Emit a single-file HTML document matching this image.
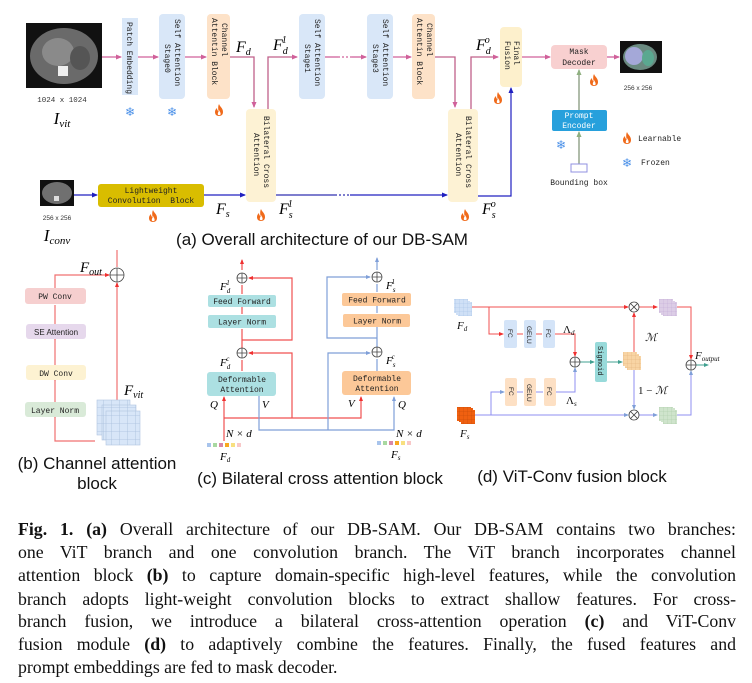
<!DOCTYPE html>
<html><head><meta charset="utf-8"><style>
html,body{margin:0;padding:0;background:#fff;width:752px;height:683px;overflow:hidden}
svg{position:absolute;left:0;top:0}
.m{font-family:"Liberation Mono",monospace}
.s{font-family:"Liberation Sans",sans-serif}
.r{font-family:"Liberation Serif",serif;font-style:italic}
.cap{position:absolute;left:18px;width:718px;font-family:"Liberation Serif",serif;font-size:17.8px;line-height:23px;color:#111;text-align:justify;text-align-last:justify;white-space:nowrap}
.cap.l{text-align-last:left}
</style></head><body>
<svg width="752" height="683" viewBox="0 0 752 683" xmlns="http://www.w3.org/2000/svg">
<defs>
<marker id="ap" markerWidth="6" markerHeight="6" refX="5" refY="3" orient="auto" markerUnits="userSpaceOnUse"><path d="M0,0.5 L6,3 L0,5.5z" fill="#d0609a"/></marker>
<marker id="ab" markerWidth="6" markerHeight="6" refX="5" refY="3" orient="auto" markerUnits="userSpaceOnUse"><path d="M0,0.5 L6,3 L0,5.5z" fill="#2020c0"/></marker>
<marker id="ar" markerWidth="5" markerHeight="5" refX="4" refY="2.5" orient="auto" markerUnits="userSpaceOnUse"><path d="M0,0.5 L5,2.5 L0,4.5z" fill="#f03030"/></marker>
<marker id="al" markerWidth="5" markerHeight="5" refX="4" refY="2.5" orient="auto" markerUnits="userSpaceOnUse"><path d="M0,0.5 L5,2.5 L0,4.5z" fill="#7f9fd8"/></marker>
<marker id="ag" markerWidth="6" markerHeight="6" refX="5" refY="3" orient="auto" markerUnits="userSpaceOnUse"><path d="M0,0.5 L6,3 L0,5.5z" fill="#8fb080"/></marker>
<marker id="at" markerWidth="5" markerHeight="5" refX="4" refY="2.5" orient="auto" markerUnits="userSpaceOnUse"><path d="M0,0.5 L5,2.5 L0,4.5z" fill="#40a090"/></marker>
<symbol id="fl" viewBox="0 0 10 12"><path d="M5,0 C6,3 9,4 9,8 C9,11 7,12 5,12 C3,12 1,11 1,8 C1,6 2,5 3,4 C3,6 4,7 4.5,7 C4,4 4,2 5,0z" fill="#f06a1a"/><path d="M5,6 C6,8 7,9 6.5,10.5 C6,11.5 4,11.5 3.8,10.3 C3.6,9 4.5,8 5,6z" fill="#fff"/></symbol>
<pattern id="gb" width="8" height="8" patternUnits="userSpaceOnUse"><rect width="8" height="8" fill="#d8e6f8"/><path d="M8,0V8M0,8H8" stroke="#a8bedc" stroke-width="0.8"/></pattern>
<pattern id="gp" width="4" height="4" patternUnits="userSpaceOnUse"><rect width="4" height="4" fill="#dccde6"/><path d="M4,0V4M0,4H4" stroke="#c0a8d4" stroke-width="0.5"/></pattern>
<pattern id="gg" width="4" height="4" patternUnits="userSpaceOnUse"><rect width="4" height="4" fill="#cfe4cc"/><path d="M4,0V4M0,4H4" stroke="#a8c8a4" stroke-width="0.5"/></pattern>
<pattern id="go" width="4" height="4" patternUnits="userSpaceOnUse"><rect width="4" height="4" fill="#f8d4a4"/><path d="M4,0V4M0,4H4" stroke="#e0b078" stroke-width="0.5"/></pattern>
<pattern id="gr" width="4" height="4" patternUnits="userSpaceOnUse"><rect width="4" height="4" fill="#f06010"/><path d="M4,0V4M0,4H4" stroke="#c04808" stroke-width="0.5"/></pattern>
<pattern id="gl" width="4" height="4" patternUnits="userSpaceOnUse"><rect width="4" height="4" fill="#cfe0f6"/><path d="M4,0V4M0,4H4" stroke="#a4c0e4" stroke-width="0.5"/></pattern>
</defs>

<!-- ===== (a) ===== -->
<rect x="26" y="23" width="76" height="65" fill="#111"/>
<ellipse cx="64" cy="56" rx="34" ry="28" fill="#6a6a6a"/>
<ellipse cx="58" cy="52" rx="16" ry="14" fill="#8a8a8a"/>
<ellipse cx="80" cy="58" rx="10" ry="12" fill="#555"/>
<rect x="58" y="66" width="10" height="10" fill="#eee"/>
<text x="62" y="102" class="m" font-size="7.5" text-anchor="middle" fill="#333">1024 x 1024</text>
<text x="62" y="124" class="r" font-size="17" text-anchor="middle">I<tspan font-size="11" dy="3">vit</tspan></text>

<path d="M102,57H121" stroke="#d0609a" stroke-width="1.3" fill="none" marker-end="url(#ap)"/>
<rect x="122" y="18" width="16" height="77" fill="#d9e7f8"/>
<text transform="translate(127,22) rotate(90)" class="m" font-size="8" fill="#222">Patch Embedding</text>
<path d="M138,57H158" stroke="#d0609a" stroke-width="1.3" fill="none" marker-end="url(#ap)"/>
<rect x="159" y="14" width="26" height="85" rx="4" fill="#d9e7f8"/>
<text transform="translate(175,19) rotate(90)" class="m" font-size="8" fill="#222">Self Attention</text>
<text transform="translate(165,44) rotate(90)" class="m" font-size="8" fill="#222">Stage0</text>
<path d="M185,57H206" stroke="#d0609a" stroke-width="1.3" fill="none" marker-end="url(#ap)"/>
<rect x="207" y="14" width="23" height="85" rx="4" fill="#fde2c8"/>
<text transform="translate(222,23) rotate(90)" class="m" font-size="8" fill="#222">Channel</text>
<text transform="translate(212,18) rotate(90)" class="m" font-size="8" fill="#222">Attentin Block</text>
<text x="130" y="116" font-size="12" text-anchor="middle" fill="#4a90e8">❄</text>
<text x="172" y="116" font-size="12" text-anchor="middle" fill="#4a90e8">❄</text>
<use href="#fl" x="214" y="104" width="10" height="12"/>

<text x="236" y="52" class="r" font-size="16">F<tspan font-size="10" dy="3">d</tspan></text>
<path d="M230,57H254V107" stroke="#c0608a" stroke-width="1.3" fill="none" marker-end="url(#ap)"/>
<rect x="246" y="109" width="30" height="93" rx="4" fill="#fdf2d4"/>
<text transform="translate(264,116) rotate(90)" class="m" font-size="8" fill="#222">Bilateral Cross</text>
<text transform="translate(254,133) rotate(90)" class="m" font-size="8" fill="#222">Attention</text>
<path d="M268,109V57H297" stroke="#c0608a" stroke-width="1.3" fill="none" marker-end="url(#ap)"/>
<text x="273" y="50" class="r" font-size="16">F<tspan font-size="10" dy="4">d</tspan><tspan font-size="10" dx="-6" dy="-11">1</tspan></text>
<use href="#fl" x="256" y="209" width="10" height="12"/>

<rect x="299" y="14" width="26" height="85" rx="4" fill="#d9e7f8"/>
<text transform="translate(315,19) rotate(90)" class="m" font-size="8" fill="#222">Self Attention</text>
<text transform="translate(305,44) rotate(90)" class="m" font-size="8" fill="#222">Stage1</text>
<path d="M325,57H338" stroke="#d0609a" stroke-width="1.3"/>
<path d="M338,57H352" stroke="#d0609a" stroke-width="1.3" stroke-dasharray="2,2"/>
<path d="M352,57H366" stroke="#d0609a" stroke-width="1.3" fill="none" marker-end="url(#ap)"/>
<rect x="367" y="14" width="26" height="85" rx="4" fill="#d9e7f8"/>
<text transform="translate(383,19) rotate(90)" class="m" font-size="8" fill="#222">Self Attention</text>
<text transform="translate(373,44) rotate(90)" class="m" font-size="8" fill="#222">Stage3</text>
<path d="M393,57H411" stroke="#d0609a" stroke-width="1.3" fill="none" marker-end="url(#ap)"/>
<rect x="412" y="14" width="23" height="85" rx="4" fill="#fde2c8"/>
<text transform="translate(427,23) rotate(90)" class="m" font-size="8" fill="#222">Channel</text>
<text transform="translate(417,18) rotate(90)" class="m" font-size="8" fill="#222">Attentin Block</text>
<path d="M435,57H455V107" stroke="#c0608a" stroke-width="1.3" fill="none" marker-end="url(#ap)"/>
<rect x="448" y="109" width="30" height="93" rx="4" fill="#fdf2d4"/>
<text transform="translate(466,116) rotate(90)" class="m" font-size="8" fill="#222">Bilateral Cross</text>
<text transform="translate(456,133) rotate(90)" class="m" font-size="8" fill="#222">Attention</text>
<path d="M471,109V57H498" stroke="#c0608a" stroke-width="1.3" fill="none" marker-end="url(#ap)"/>
<text x="476" y="50" class="r" font-size="16">F<tspan font-size="10" dy="4">d</tspan><tspan font-size="10" dx="-6" dy="-11">o</tspan></text>
<use href="#fl" x="460" y="209" width="10" height="12"/>

<rect x="500" y="27" width="22" height="60" rx="4" fill="#fdf0cc"/>
<text transform="translate(514,41) rotate(90)" class="m" font-size="8" fill="#222">Final</text>
<text transform="translate(505,41) rotate(90)" class="m" font-size="8" fill="#222">Fusion</text>
<use href="#fl" x="493" y="92" width="10" height="12"/>
<path d="M522,57H550" stroke="#d0609a" stroke-width="1.3" fill="none" marker-end="url(#ap)"/>
<rect x="551" y="45" width="56" height="24" rx="4" fill="#f8d0d0"/>
<text x="579" y="54" class="m" font-size="8" text-anchor="middle" fill="#222">Mask</text>
<text x="579" y="65" class="m" font-size="8" text-anchor="middle" fill="#222">Decoder</text>
<use href="#fl" x="589" y="74" width="10" height="12"/>
<path d="M607,57H619" stroke="#d0609a" stroke-width="1.3" fill="none" marker-end="url(#ap)"/>
<rect x="620" y="41" width="42" height="32" fill="#111"/>
<ellipse cx="640" cy="57" rx="17" ry="13" fill="#6a8a80"/>
<ellipse cx="634" cy="56" rx="9" ry="9" fill="#a4a8d8"/>
<ellipse cx="648" cy="58" rx="6" ry="8" fill="#5aa890"/>
<text x="638" y="90" class="s" font-size="6.5" text-anchor="middle" fill="#333">256 x 256</text>

<path d="M579,164V132" stroke="#7a9070" stroke-width="1.2" fill="none" marker-end="url(#ag)"/>
<path d="M579,110V70" stroke="#7a9070" stroke-width="1.2" fill="none" marker-end="url(#ag)"/>
<rect x="552" y="110" width="55" height="21" rx="2" fill="#27a0dc"/>
<text x="579" y="118" class="m" font-size="8" text-anchor="middle" fill="#fff">Prompt</text>
<text x="579" y="128" class="m" font-size="8" text-anchor="middle" fill="#fff">Encoder</text>
<text x="561" y="149" font-size="12" text-anchor="middle" fill="#4a90e8">❄</text>
<rect x="571" y="164" width="16" height="8" fill="#fff" stroke="#9090e0" stroke-width="1"/>
<text x="579" y="185" class="m" font-size="8" text-anchor="middle" fill="#222">Bounding box</text>
<use href="#fl" x="622" y="132" width="10" height="12"/>
<text x="638" y="141" class="m" font-size="8" fill="#222">Learnable</text>
<text x="627" y="167" font-size="12" text-anchor="middle" fill="#4a90e8">❄</text>
<text x="641" y="165" class="m" font-size="8" fill="#222">Frozen</text>

<rect x="40" y="180" width="34" height="26" fill="#111"/>
<ellipse cx="57" cy="193" rx="15" ry="11" fill="#707070"/>
<rect x="54" y="196" width="5" height="5" fill="#ddd"/>
<text x="57" y="220" class="s" font-size="6.5" text-anchor="middle" fill="#333">256 x 256</text>
<text x="57" y="241" class="r" font-size="17" text-anchor="middle">I<tspan font-size="11" dy="3">conv</tspan></text>
<path d="M74,195H97" stroke="#2020c0" stroke-width="1.2" fill="none" marker-end="url(#ab)"/>
<rect x="98" y="184" width="106" height="23" rx="3" fill="#d9bd00"/>
<text x="151" y="193" class="m" font-size="8" text-anchor="middle" fill="#222">Lightweight</text>
<text x="151" y="203" class="m" font-size="8" text-anchor="middle" fill="#222" xml:space="preserve">Convolution  Block</text>
<use href="#fl" x="148" y="210" width="10" height="12"/>
<path d="M204,195H245" stroke="#2020c0" stroke-width="1.2" fill="none" marker-end="url(#ab)"/>
<text x="216" y="214" class="r" font-size="16">F<tspan font-size="10" dy="3">s</tspan></text>
<path d="M276,195H335" stroke="#3030b0" stroke-width="1.2"/>
<path d="M335,195H350" stroke="#3030b0" stroke-width="1.2" stroke-dasharray="2,2"/>
<path d="M350,195H447" stroke="#2020c0" stroke-width="1.2" fill="none" marker-end="url(#ab)"/>
<text x="279" y="214" class="r" font-size="16">F<tspan font-size="10" dy="4">s</tspan><tspan font-size="10" dx="-5" dy="-11">1</tspan></text>
<path d="M478,196H511V88" stroke="#2020c0" stroke-width="1.2" fill="none" marker-end="url(#ab)"/>
<text x="482" y="214" class="r" font-size="16">F<tspan font-size="10" dy="4">s</tspan><tspan font-size="10" dx="-5" dy="-11">o</tspan></text>
<text x="322" y="245" class="s" font-size="17" text-anchor="middle" fill="#111">(a) Overall architecture of our DB-SAM</text>

<!-- ===== (b) ===== -->
<path d="M95,441H55V305" stroke="#f07070" stroke-width="1.2" fill="none"/>
<path d="M55,402V418M55,365V381M55,324V340" stroke="#f07070" stroke-width="1.2"/>
<path d="M55,288V275H109" stroke="#f07070" stroke-width="1.2" fill="none" marker-end="url(#ar)"/>
<path d="M117,400V283" stroke="#f07070" stroke-width="1.2" fill="none" marker-end="url(#ar)"/>
<path d="M117,267V250" stroke="#f07070" stroke-width="1.2"/>
<circle cx="117" cy="275" r="7" fill="#fff" stroke="#444" stroke-width="0.8"/>
<path d="M110,275H124M117,268V282" stroke="#444" stroke-width="0.8"/>
<rect x="25" y="288" width="61" height="16" rx="3" fill="#f6cfcf"/>
<text x="55" y="299" class="m" font-size="8" text-anchor="middle" fill="#222">PW Conv</text>
<rect x="26" y="324" width="60" height="15" rx="3" fill="#e6d8ec"/>
<text x="56" y="335" class="s" font-size="8" text-anchor="middle" fill="#222">SE Attention</text>
<rect x="26" y="365" width="60" height="15" rx="3" fill="#fdf2d2"/>
<text x="56" y="376" class="m" font-size="8" text-anchor="middle" fill="#222">DW Conv</text>
<rect x="25" y="402" width="61" height="15" rx="3" fill="#d9ead8"/>
<text x="55" y="413" class="m" font-size="8" text-anchor="middle" fill="#222">Layer Norm</text>
<text x="80" y="272" class="r" font-size="15">F<tspan font-size="10" dy="3">out</tspan></text>
<text x="124" y="395" class="r" font-size="15">F<tspan font-size="10" dy="3">vit</tspan></text>
<rect x="97" y="400" width="33" height="35" fill="url(#gb)" stroke="#b0c4e0" stroke-width="0.6"/>
<rect x="102" y="405" width="34" height="35" fill="url(#gb)" stroke="#b0c4e0" stroke-width="0.6"/>
<rect x="106" y="411" width="34" height="34" fill="url(#gb)" stroke="#b0c4e0" stroke-width="0.6"/>
<text x="97" y="469" class="s" font-size="17" text-anchor="middle" fill="#111">(b) Channel attention</text>
<text x="97" y="489" class="s" font-size="17" text-anchor="middle" fill="#111">block</text>

<!-- ===== (c) ===== -->
<g stroke="#f05050" stroke-width="1.2" fill="none">
<path d="M242,270V260" marker-end="url(#ar)"/>
<path d="M242,294V285M242,314V307M242,352V329M242,371V360"/>
<path d="M242,340H292V278H249" marker-end="url(#ar)"/>
<path d="M224,441V397" marker-end="url(#ar)"/>
<path d="M224,418H361V397" marker-end="url(#ar)"/>
<path d="M292,418V353H249" marker-end="url(#ar)"/>
</g>
<g stroke="#7f9fd8" stroke-width="1.2" fill="none">
<path d="M377,270V258" marker-end="url(#al)"/>
<path d="M377,292V284M377,313V306M377,352V327M377,371V359"/>
<path d="M377,338H327V277H370" marker-end="url(#al)"/>
<path d="M259,396V430H394V397" marker-end="url(#al)"/>
<path d="M328,430V353H370" marker-end="url(#al)"/>
</g>
<g fill="#fff" stroke="#444" stroke-width="0.8">
<circle cx="242" cy="278" r="5"/><circle cx="242" cy="353" r="5"/><circle cx="377" cy="277" r="5"/><circle cx="377" cy="352" r="5"/>
</g>
<path d="M237,278H247M242,273V283M237,353H247M242,348V358M372,277H382M377,272V282M372,352H382M377,347V357" stroke="#444" stroke-width="0.8"/>
<rect x="208" y="295" width="68" height="12" rx="2" fill="#ace0e2"/>
<text x="242" y="304" class="m" font-size="8" text-anchor="middle" fill="#222">Feed Forward</text>
<rect x="208" y="315" width="68" height="13" rx="2" fill="#ace0e2"/>
<text x="242" y="324.5" class="m" font-size="8" text-anchor="middle" fill="#222">Layer Norm</text>
<rect x="207" y="372" width="69" height="24" rx="3" fill="#ace0e2"/>
<text x="242" y="382" class="m" font-size="8" text-anchor="middle" fill="#222">Deformable</text>
<text x="242" y="392" class="m" font-size="8" text-anchor="middle" fill="#222">Attention</text>
<rect x="342" y="293" width="69" height="13" rx="2" fill="#fcc898"/>
<text x="377" y="302.5" class="m" font-size="8" text-anchor="middle" fill="#222">Feed Forward</text>
<rect x="343" y="314" width="67" height="13" rx="2" fill="#fcc898"/>
<text x="377" y="323.5" class="m" font-size="8" text-anchor="middle" fill="#222">Layer Norm</text>
<rect x="342" y="371" width="69" height="24" rx="3" fill="#fcc898"/>
<text x="377" y="381" class="m" font-size="8" text-anchor="middle" fill="#222">Deformable</text>
<text x="377" y="391" class="m" font-size="8" text-anchor="middle" fill="#222">Attention</text>
<g class="r" font-size="11">
<text x="220" y="290">F<tspan font-size="7" dy="3">d</tspan><tspan font-size="7" dx="-4" dy="-8">1</tspan></text>
<text x="220" y="366">F<tspan font-size="7" dy="3">d</tspan><tspan font-size="7" dx="-4" dy="-8">c</tspan></text>
<text x="386" y="289">F<tspan font-size="7" dy="3">s</tspan><tspan font-size="7" dx="-4" dy="-8">1</tspan></text>
<text x="386" y="364">F<tspan font-size="7" dy="3">s</tspan><tspan font-size="7" dx="-4" dy="-8">c</tspan></text>
<text x="210" y="408">Q</text><text x="262" y="408">V</text>
<text x="348" y="407">V</text><text x="398" y="408">Q</text>
<text x="226" y="437">N × d</text><text x="396" y="437">N × d</text>
<text x="220" y="460">F<tspan font-size="7" dy="2">d</tspan></text>
<text x="391" y="458">F<tspan font-size="7" dy="2">s</tspan></text>
</g>
<g>
<rect x="207" y="443" width="4" height="4" fill="#a8c4ec"/><rect x="213" y="443" width="4" height="4" fill="#a8d8a0"/><rect x="219" y="443" width="4" height="4" fill="#d888a8"/><rect x="225" y="443" width="4" height="4" fill="#f8a820"/><rect x="231" y="443" width="4" height="4" fill="#f8e080"/><rect x="237" y="443" width="4" height="4" fill="#f8c8c8"/>
<rect x="377" y="441" width="4" height="4" fill="#a8c4ec"/><rect x="383" y="441" width="4" height="4" fill="#a8d8a0"/><rect x="389" y="441" width="4" height="4" fill="#d888a8"/><rect x="395" y="441" width="4" height="4" fill="#f8a820"/><rect x="401" y="441" width="4" height="4" fill="#f8e080"/><rect x="407" y="441" width="4" height="4" fill="#f8c8c8"/>
</g>
<text x="320" y="484" class="s" font-size="17" text-anchor="middle" fill="#111">(c) Bilateral cross attention block</text>

<!-- ===== (d) ===== -->
<g stroke="#f05050" stroke-width="1" fill="none">
<path d="M472,307H628" marker-end="url(#ar)"/>
<path d="M639,307H657" marker-end="url(#ar)"/>
<path d="M489,307V334H503" marker-end="url(#ar)"/>
<path d="M517,334H523M536,334H542" />
<path d="M555,334H575V356" marker-end="url(#ar)"/>
<path d="M676,307H691V359" marker-end="url(#ar)"/>
<path d="M634,352V313" marker-end="url(#ar)"/>
</g>
<g stroke="#8f8ff0" stroke-width="1" fill="none">
<path d="M474,415H628" marker-end="url(#al)"/>
<path d="M639,415H657" marker-end="url(#al)"/>
<path d="M491,415V392H504" marker-end="url(#al)"/>
<path d="M517,392H523M536,392H543"/>
<path d="M556,392H575V368" marker-end="url(#al)"/>
<path d="M676,415H691V371" marker-end="url(#al)"/>
<path d="M634,370V409" marker-end="url(#al)"/>
</g>
<g stroke="#40a090" stroke-width="1" fill="none">
<path d="M580,362H594" marker-end="url(#at)"/>
<path d="M607,362H622" marker-end="url(#at)"/>
<path d="M696,365H708" marker-end="url(#at)"/>
</g>
<g fill="#fff" stroke="#444" stroke-width="0.8">
<circle cx="634" cy="307" r="5"/><circle cx="634" cy="415" r="5"/><circle cx="575" cy="362" r="5"/><circle cx="691" cy="365" r="5"/>
</g>
<path d="M630.5,303.5l7,7M637.5,303.5l-7,7M630.5,411.5l7,7M637.5,411.5l-7,7M570,362H580M575,357V367M686,365H696M691,360V370" stroke="#444" stroke-width="0.8"/>
<rect x="504" y="320" width="13" height="28" rx="2" fill="#d4e4f8"/>
<rect x="524" y="320" width="12" height="28" rx="2" fill="#d4e4f8"/>
<rect x="543" y="320" width="12" height="28" rx="2" fill="#d4e4f8"/>
<rect x="505" y="378" width="12" height="28" rx="2" fill="#fde0c4"/>
<rect x="524" y="378" width="12" height="28" rx="2" fill="#fde0c4"/>
<rect x="544" y="378" width="12" height="28" rx="2" fill="#fde0c4"/>
<g class="s" font-size="6.5" fill="#222">
<text transform="translate(508,329) rotate(90)">FC</text>
<text transform="translate(527,326) rotate(90)">GELU</text>
<text transform="translate(546,329) rotate(90)">FC</text>
<text transform="translate(509,387) rotate(90)">FC</text>
<text transform="translate(527,384) rotate(90)">GELU</text>
<text transform="translate(547,387) rotate(90)">FC</text>
</g>
<rect x="595" y="342" width="12" height="40" rx="2" fill="#98dada"/>
<text transform="translate(598,346) rotate(90)" class="m" font-size="7" fill="#222">Sigmoid</text>
<rect x="454" y="299" width="14" height="14" fill="url(#gl)"/><rect x="456" y="301" width="14" height="14" fill="url(#gl)"/><rect x="458" y="302" width="14" height="14" fill="url(#gl)"/>
<rect x="457" y="407" width="14" height="14" fill="url(#gr)"/><rect x="459" y="408" width="14" height="14" fill="url(#gr)"/><rect x="461" y="410" width="14" height="14" fill="url(#gr)"/>
<rect x="623" y="352" width="14" height="14" fill="url(#go)"/><rect x="625" y="354" width="14" height="14" fill="url(#go)"/><rect x="627" y="356" width="14" height="14" fill="url(#go)"/>
<rect x="659" y="299" width="14" height="14" fill="url(#gp)"/><rect x="661" y="301" width="14" height="14" fill="url(#gp)"/><rect x="663" y="302" width="14" height="14" fill="url(#gp)"/>
<rect x="659" y="407" width="14" height="14" fill="url(#gg)"/><rect x="661" y="408" width="14" height="14" fill="url(#gg)"/><rect x="663" y="410" width="14" height="14" fill="url(#gg)"/>
<g class="r" font-size="11" fill="#111">
<text x="457" y="329">F<tspan font-size="7" dy="2">d</tspan></text>
<text x="460" y="437">F<tspan font-size="7" dy="2">s</tspan></text>
<text x="563" y="333" font-style="normal">Λ<tspan font-size="7" dy="2" font-style="italic">d</tspan></text>
<text x="566" y="404" font-style="normal">Λ<tspan font-size="7" dy="2" font-style="italic">s</tspan></text>
<text x="645" y="341">ℳ</text>
<text x="638" y="394" font-style="normal">1 − <tspan font-style="italic">ℳ</tspan></text>
<text x="695" y="359">F<tspan font-size="7" dy="2">output</tspan></text>
</g>
<text x="572" y="482" class="s" font-size="17" text-anchor="middle" fill="#111">(d) ViT-Conv fusion block</text>
</svg>

<div class="cap" style="top:518px"><b>Fig. 1.</b> <b>(a)</b> Overall architecture of our DB-SAM. Our DB-SAM contains two branches:</div>
<div class="cap" style="top:541px">one ViT branch and one convolution branch. The ViT branch incorporates channel</div>
<div class="cap" style="top:564px">attention block <b>(b)</b> to capture domain-specific high-level features, while the convolution</div>
<div class="cap" style="top:588px">branch adopts light-weight convolution blocks to extract shallow features. For cross-</div>
<div class="cap" style="top:610px">branch fusion, we introduce a bilateral cross-attention operation <b>(c)</b> and ViT-Conv</div>
<div class="cap" style="top:633px">fusion module <b>(d)</b> to adaptively combine the features. Finally, the fused features and</div>
<div class="cap l" style="top:656px">prompt embeddings are fed to mask decoder.</div>
</body></html>
